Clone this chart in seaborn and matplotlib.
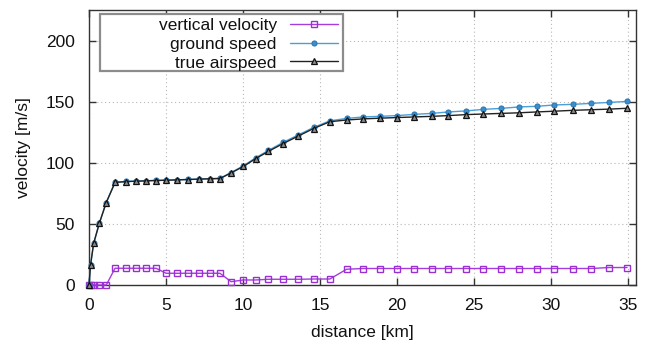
import matplotlib
matplotlib.use("Agg")
import matplotlib.pyplot as plt
import seaborn as sns
import numpy as np
import pandas as pd
from matplotlib.patches import Rectangle

distance_km = [0, 0.1, 0.3, 0.67, 1.12, 1.69, 2.38, 3.03, 3.7, 4.35, 5.0, 5.73, 6.45,
               7.14, 7.83, 8.5, 9.22, 10.02, 10.82, 11.64, 12.58, 13.57, 14.57, 15.63,
               16.72, 17.8, 18.9, 19.99, 21.12, 22.25, 23.33, 24.46, 25.6, 26.75, 27.92,
               29.07, 30.2, 31.4, 32.58, 33.77, 34.92]

vertical_velocity = [0, 0, 0, 0, 0, 13.7, 13.7, 13.7, 13.7, 13.7, 9.6, 9.6, 9.6,
                     9.6, 9.6, 9.6, 2.7, 4.1, 4.1, 4.7, 4.7, 4.7, 4.9, 4.9,
                     12.9, 13.5, 13.5, 13.5, 13.5, 13.5, 13.5, 13.5, 13.5, 13.5, 13.5,
                     13.5, 13.5, 13.5, 13.5, 14.3, 14.3]

ground_speed = [0, 16.4, 34.0, 50.5, 67.5, 83.9, 84.7, 85.0, 85.3, 85.6, 85.8, 86.1, 86.4,
                86.7, 87.0, 87.3, 92.0, 97.5, 104.1, 110.1, 116.6, 122.7, 128.9, 134.3,
                136.3, 137.5, 138.0, 138.6, 139.6, 140.4, 141.6, 142.4, 143.7, 144.5, 145.7,
                146.2, 147.3, 147.8, 148.6, 149.4, 150.2]

true_airspeed = [0, 16.4, 34.0, 50.5, 67.5, 83.9, 84.6, 84.9, 85.2, 85.5, 85.7, 86.0, 86.3,
                 86.6, 86.9, 87.1, 91.7, 97.0, 103.4, 109.3, 115.6, 121.8, 128.0, 133.6,
                 135.0, 135.9, 136.5, 137.0, 137.5, 138.0, 138.6, 139.4, 139.9, 140.4, 140.9,
                 141.6, 142.2, 142.9, 143.4, 143.9, 144.6]

x_ticks = [0, 5, 10, 15, 20, 25, 30, 35]
y_ticks = [0, 50, 100, 150, 200]

sns.set_theme(style="white")
plt.rcParams['font.family'] = ['Liberation Sans', 'DejaVu Sans']
FS = 12.5

fig = plt.figure(figsize=(6.55, 3.41), dpi=100)
ax = fig.add_axes([89/655, 1-285/341, (636-89)/655, (285-10)/341])

series = [
    ("vertical velocity", vertical_velocity, dict(color="#a43ddb", marker="s", markersize=4.2,
                                                  markerfacecolor="none", markeredgecolor="#9a30d4",
                                                  markeredgewidth=1.0)),
    ("ground speed", ground_speed, dict(color="#4a9fd8", marker="o", markersize=3.6,
                                        markerfacecolor="#3d8fcc", markeredgecolor="#2a78b5",
                                        markeredgewidth=0.8)),
    ("true airspeed", true_airspeed, dict(color="#222222", marker="^", markersize=4.6,
                                          markerfacecolor="#8a8a8a", markeredgecolor="#111111",
                                          markeredgewidth=0.9)),
]

for name, vals, kw in series:
    df = pd.DataFrame({"distance": distance_km, "velocity": vals})
    sns.lineplot(data=df, x="distance", y="velocity", ax=ax, label=name,
                 linewidth=1.0, sort=False, clip_on=False, zorder=3, **kw)

ax.set_xlim(0, 35.5)
ax.set_ylim(0, 225)
ax.set_xticks(x_ticks)
ax.set_yticks(y_ticks)
ax.set_xticklabels([str(t) for t in x_ticks], fontsize=FS)
ax.set_yticklabels([str(t) for t in y_ticks], fontsize=FS)
ax.tick_params(axis="both", direction="in", length=5, width=1, color="#333333",
               top=True, right=True, bottom=True, left=True, labelcolor="#111111")
ax.tick_params(axis="x", pad=9)
ax.tick_params(axis="y", pad=10)
ax.grid(True, linestyle=(0, (1, 2.5)), color="#b8b8b8", linewidth=0.8)
for s in ax.spines.values():
    s.set_color("#333333")
    s.set_linewidth(1.0)
    s.set_visible(True)

ax.set_xlabel("distance [km]", fontsize=FS, labelpad=9, color="#111111")
ax.set_ylabel("velocity [m/s]", fontsize=FS, labelpad=11, color="#111111")

# legend: right-aligned text, line samples on the right
leg = ax.legend(loc="upper right", bbox_to_anchor=((341-89)/547, (285-14)/275),
                frameon=False, markerfirst=False, fontsize=FS, handlelength=2.75,
                handletextpad=0.75, labelspacing=0.22, borderpad=0.2, borderaxespad=0)
for t in leg.get_texts():
    t.set_color("#111111")
box = Rectangle(((100-89)/547, (285-71)/275), (343-100)/547, (71-14)/275,
                transform=ax.transAxes, fill=True, facecolor="white",
                edgecolor="#8c8c8c", linewidth=1.6, zorder=4)
ax.add_patch(box)
leg.set_zorder(5)

fig.savefig("out.png", dpi=100)
